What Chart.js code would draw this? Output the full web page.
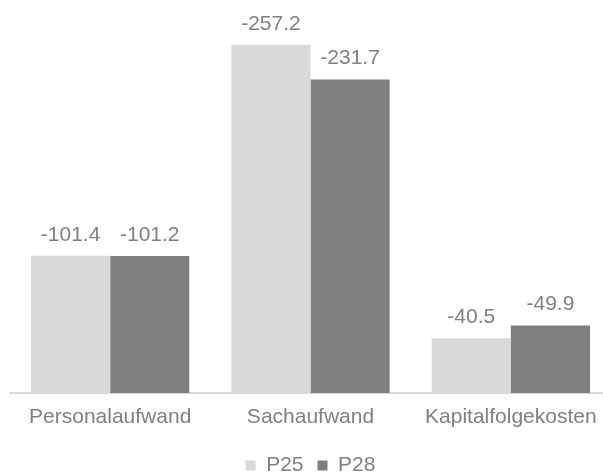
<!DOCTYPE html>
<html lang="de">
<head>
  <meta charset="UTF-8">
  <title>Aufwand P25 / P28</title>
  <script src="https://cdn.jsdelivr.net/npm/chart.js"></script>
  <style>
    html, body{
      margin: 0;
      padding: 0;
      background: #fff;
      overflow: hidden;
    }
    #wrap{
      width: 611px;
      height: 486px;
    }
  </style>
</head>
<body>
  <div id="wrap">
    <canvas id="costChart" width="611" height="486"></canvas>
  </div>

  <script>
    // values as shown in the chart (negative = Aufwand)
    const categories = ['Personalaufwand', 'Sachaufwand', 'Kapitalfolgekosten'];
    const p25 = [-101.4, -257.2, -40.5];
    const p28 = [-101.2, -231.7, -49.9];
    const seriesNames = ['P25', 'P28'];

    const textColor = '#808080';
    const fontFamily = "'Liberation Sans', Arial, sans-serif";

    // bars are drawn by magnitude, labels keep the sign
    const valueLabels = {
      id: 'valueLabels',
      afterDatasetsDraw(chart) {
        const ctx = chart.ctx;
        ctx.save();
        ctx.font = '21px ' + fontFamily;
        ctx.fillStyle = textColor;
        ctx.textAlign = 'center';
        ctx.textBaseline = 'middle';
        chart.data.datasets.forEach((ds, i) => {
          const meta = chart.getDatasetMeta(i);
          meta.data.forEach((bar, j) => {
            ctx.fillText(ds.raw[j].toFixed(1), bar.x, bar.y - 21);
          });
        });
        ctx.restore();
      }
    };

    new Chart(document.getElementById('costChart').getContext('2d'), {
      type: 'bar',
      data: {
        labels: categories,
        datasets: [
          {
            label: seriesNames[0],
            raw: p25,
            data: p25.map(v => Math.abs(v)),
            backgroundColor: '#d9d9d9'
          },
          {
            label: seriesNames[1],
            raw: p28,
            data: p28.map(v => Math.abs(v)),
            backgroundColor: '#7f7f7f'
          }
        ]
      },
      options: {
        responsive: false,
        animation: false,
        categoryPercentage: 0.79,
        barPercentage: 1.0,
        layout: {
          padding: { left: 10, right: 0, top: 14, bottom: 0 }
        },
        plugins: {
          legend: {
            position: 'bottom',
            labels: {
              color: textColor,
              font: { family: fontFamily, size: 21 },
              boxWidth: 10,
              boxHeight: 10,
              padding: 14
            }
          },
          tooltip: { enabled: false }
        },
        scales: {
          x: {
            grid: { display: false, drawTicks: false },
            border: { color: '#d9d9d9', width: 2 },
            ticks: {
              color: textColor,
              font: { family: fontFamily, size: 21 },
              padding: 12
            },
            afterFit(axis) {
              axis.height = 48;
            }
          },
          y: {
            display: false,
            min: 0,
            max: 280
          }
        }
      },
      plugins: [valueLabels]
    });
  </script>
</body>
</html>
